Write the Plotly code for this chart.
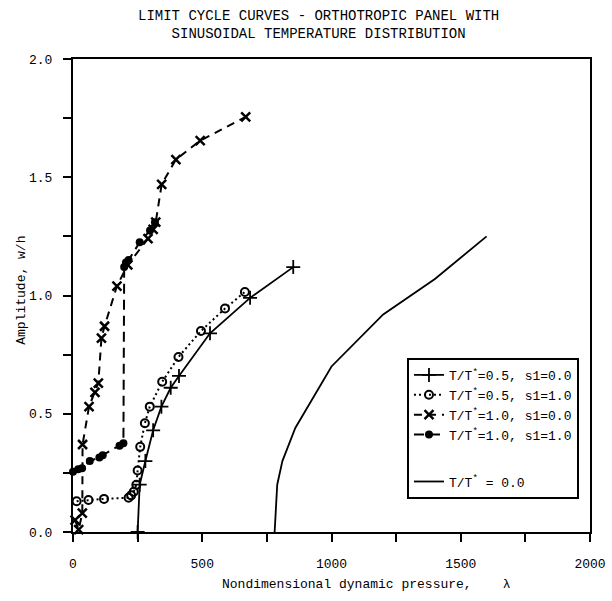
import plotly.graph_objects as go

# ---- data ----
t0_x = [780, 790, 810, 860, 1000, 1200, 1400, 1600]
t0_y = [0.0, 0.20, 0.30, 0.44, 0.70, 0.92, 1.07, 1.25]

t05_s0_x = [250, 258, 280, 310, 342, 378, 410, 530, 685, 852]
t05_s0_y = [0.0, 0.20, 0.30, 0.43, 0.53, 0.61, 0.66, 0.84, 0.99, 1.12]

t05_s1_x = [14, 60, 120, 215, 225, 235, 245, 250, 260, 278, 297, 345, 408, 495, 588, 665]
t05_s1_y = [0.13, 0.135, 0.14, 0.145, 0.155, 0.17, 0.20, 0.26, 0.36, 0.46, 0.53, 0.635, 0.74, 0.85, 0.945, 1.015]

t10_s0_x = [8, 22, 36, 37, 62, 85, 98, 110, 122, 170, 212, 290, 310, 320, 343, 398, 492, 668]
t10_s0_y = [0.05, 0.01, 0.08, 0.37, 0.53, 0.59, 0.63, 0.82, 0.87, 1.04, 1.13, 1.24, 1.28, 1.31, 1.47, 1.575, 1.655, 1.755]

t10_s1_x = [0, 20, 35, 65, 102, 115, 180, 195, 198, 205, 215, 258, 298, 317]
t10_s1_y = [0.255, 0.265, 0.27, 0.30, 0.315, 0.325, 0.365, 0.375, 1.12, 1.14, 1.15, 1.225, 1.275, 1.31]

names = [
    "T/T<sup>*</sup>=0.5, s1=0.0",
    "T/T<sup>*</sup>=0.5, s1=1.0",
    "T/T<sup>*</sup>=1.0, s1=0.0",
    "T/T<sup>*</sup>=1.0, s1=1.0",
    "T/T<sup>*</sup> = 0.0",
]

x_ticks = [0, 500, 1000, 1500, 2000]
y_ticks = [0.0, 0.5, 1.0, 1.5, 2.0]

FONT = "Liberation Mono, Courier New, monospace"
BLACK = "black"

fig = go.Figure()

fig.add_trace(go.Scatter(
    x=t05_s0_x, y=t05_s0_y, name=names[0], mode="lines+markers",
    line=dict(color=BLACK, width=1.8),
    marker=dict(symbol="cross-thin", size=10, line=dict(color=BLACK, width=1.8)),
    legendgroup="a", cliponaxis=False))

fig.add_trace(go.Scatter(
    x=t05_s1_x, y=t05_s1_y, name=names[1], mode="lines+markers",
    line=dict(color=BLACK, width=2, dash="2px,3px"),
    marker=dict(symbol="circle-open", size=8, color=BLACK, line=dict(color=BLACK, width=2)),
    legendgroup="a", cliponaxis=False))

fig.add_trace(go.Scatter(
    x=t10_s0_x, y=t10_s0_y, name=names[2], mode="lines+markers",
    line=dict(color=BLACK, width=2, dash="8px,6px"),
    marker=dict(symbol="x-thin", size=9, line=dict(color=BLACK, width=2.5)),
    legendgroup="a", cliponaxis=False))

fig.add_trace(go.Scatter(
    x=t10_s1_x, y=t10_s1_y, name=names[3], mode="lines+markers",
    line=dict(color=BLACK, width=2, dash="10px,6px"),
    marker=dict(symbol="circle", size=8, color=BLACK),
    legendgroup="a", cliponaxis=False))

fig.add_trace(go.Scatter(
    x=t0_x, y=t0_y, name=names[4], mode="lines",
    line=dict(color=BLACK, width=1.8),
    legendgroup="b", cliponaxis=False))

axis_common = dict(
    showgrid=False, zeroline=False, showline=True, linecolor=BLACK, linewidth=2,
    mirror=True, ticks="outside", ticklen=8, tickwidth=1.5, tickcolor=BLACK,
    tickfont=dict(family=FONT, size=13, color=BLACK), automargin=False,
)

fig.update_xaxes(
    range=[0, 2000], tickvals=x_ticks, ticktext=[str(v) for v in x_ticks],
    minor=dict(dtick=250, ticks="outside", ticklen=8, tickwidth=1.5, tickcolor=BLACK, showgrid=False),
    ticklabelstandoff=10, **axis_common)

fig.update_yaxes(
    range=[0, 2], tickvals=y_ticks, ticktext=[f"{v:.1f}" for v in y_ticks],
    minor=dict(dtick=0.25, ticks="outside", ticklen=8, tickwidth=1.5, tickcolor=BLACK, showgrid=False),
    ticklabelstandoff=8, **axis_common)

fig.update_layout(
    width=612, height=601,
    margin=dict(l=73, r=22, t=59, b=69, autoexpand=False),
    paper_bgcolor="white", plot_bgcolor="white",
    font=dict(family=FONT, color=BLACK, size=13),
    showlegend=True,
    legend=dict(
        x=0.646, y=0.368, xanchor="left", yanchor="top",
        bgcolor="white", bordercolor=BLACK, borderwidth=2,
        font=dict(family=FONT, size=13, color=BLACK),
        traceorder="grouped", tracegroupgap=27, itemwidth=30,
    ),
    annotations=[
        dict(text="LIMIT CYCLE CURVES - ORTHOTROPIC PANEL WITH<br>SINUSOIDAL TEMPERATURE DISTRIBUTION",
             xref="paper", yref="paper", x=0.474, y=1.0, yshift=53, xanchor="center", yanchor="top",
             showarrow=False, font=dict(family=FONT, size=14, color=BLACK)),
        dict(text="Nondimensional dynamic pressure,&nbsp;&nbsp;&nbsp;&nbsp;λ",
             xref="paper", yref="paper", x=0.567, y=0, yshift=-52, xanchor="center", yanchor="middle",
             showarrow=False, font=dict(family=FONT, size=13, color=BLACK)),
        dict(text="Amplitude, w/h", textangle=-90,
             xref="paper", yref="paper", x=0, xshift=-51, y=0.51, xanchor="center", yanchor="middle",
             showarrow=False, font=dict(family=FONT, size=13, color=BLACK)),
    ],
)

fig.write_html(
    "out.html",
    config={"displayModeBar": False},
    post_script="document.body.style.margin='0';document.body.style.overflow='hidden';",
)
